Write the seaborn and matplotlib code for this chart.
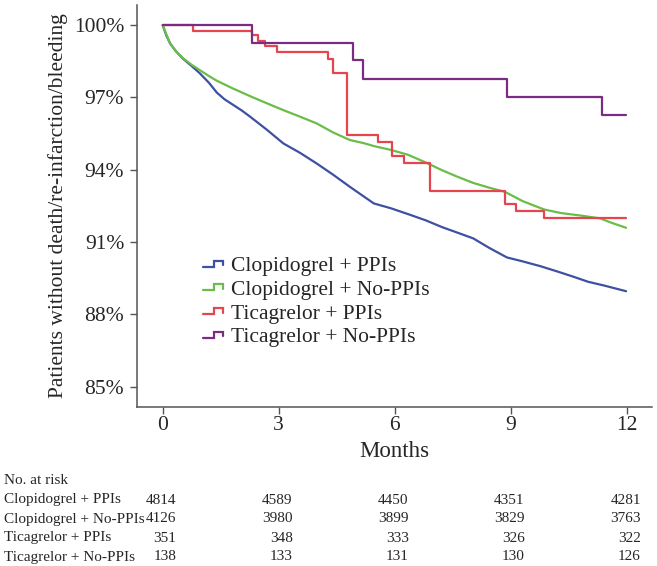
import numpy as np
import pandas as pd
import matplotlib
matplotlib.use("Agg")
import matplotlib.pyplot as plt
import matplotlib.transforms as mtransforms
from matplotlib.legend_handler import HandlerBase
from matplotlib.lines import Line2D
import seaborn as sns

# curve values (month, % event-free)
clop_ppi_t = [0, 0.1, 0.2, 0.35, 0.53, 0.75, 0.96, 1.2, 1.4, 1.6, 1.83, 2.05, 2.26, 2.7, 3.12, 3.55,
              3.98, 4.4, 4.84, 5.1, 5.46, 5.9, 6.34, 6.8, 7.22, 7.6, 8.03, 8.45, 8.9, 9.3, 9.76,
              10.2, 10.62, 11.0, 11.4, 11.98]
clop_ppi_s = [100, 99.55, 99.22, 98.9, 98.6, 98.3, 98.0, 97.6, 97.2, 96.92, 96.68, 96.45, 96.2, 95.65,
              95.09, 94.7, 94.26, 93.8, 93.29, 93.0, 92.6, 92.4, 92.16, 91.9, 91.62, 91.4, 91.15,
              90.75, 90.36, 90.2, 90.0, 89.78, 89.56, 89.35, 89.2, 88.96]

clop_noppi_t = [0, 0.1, 0.19, 0.35, 0.53, 0.75, 0.96, 1.2, 1.4, 1.8, 2.26, 2.7, 3.12, 3.55, 3.98, 4.4,
                4.84, 5.2, 5.46, 5.9, 6.34, 6.8, 7.22, 7.6, 8.03, 8.45, 8.85, 9.3, 9.86, 10.3, 10.8,
                11.31, 11.6, 11.98]
clop_noppi_s = [100, 99.6, 99.24, 98.9, 98.62, 98.35, 98.13, 97.88, 97.69, 97.38, 97.05, 96.75, 96.47,
                96.2, 95.92, 95.55, 95.23, 95.1, 94.98, 94.82, 94.62, 94.3, 93.98, 93.72, 93.45,
                93.25, 93.08, 92.7, 92.35, 92.2, 92.1, 91.98, 91.8, 91.59]

tica_ppi_t = [0, 0.79, 2.30, 2.47, 2.65, 2.95, 4.28, 4.40, 4.77, 5.58, 5.92, 6.24, 6.90, 8.86, 9.14,
              9.86, 11.98]
tica_ppi_s = [100, 99.75, 99.6, 99.33, 99.15, 98.88, 98.58, 98.0, 95.45, 95.14, 94.58, 94.26, 93.13,
              92.57, 92.28, 91.98, 91.98]

tica_noppi_t = [0, 2.30, 4.93, 5.19, 8.91, 11.35, 11.98]
tica_noppi_s = [100, 99.24, 98.54, 97.78, 97.0, 96.25, 96.25]

groups = ["Clopidogrel + PPIs", "Clopidogrel + No-PPIs", "Ticagrelor + PPIs", "Ticagrelor + No-PPIs"]
colors = ["#3E50A2", "#69BD48", "#E4454E", "#7A2B83"]

# numbers at risk
risk_months = [0, 3, 6, 9, 12]
risk_clop_ppi = [4814, 4589, 4450, 4351, 4281]
risk_clop_noppi = [4126, 3980, 3899, 3829, 3763]
risk_tica_ppi = [351, 348, 333, 326, 322]
risk_tica_noppi = [138, 133, 131, 130, 126]

clop = pd.concat([
    pd.DataFrame({"month": clop_ppi_t, "surv": clop_ppi_s, "group": groups[0]}),
    pd.DataFrame({"month": clop_noppi_t, "surv": clop_noppi_s, "group": groups[1]}),
])
tica = pd.concat([
    pd.DataFrame({"month": tica_ppi_t, "surv": tica_ppi_s, "group": groups[2]}),
    pd.DataFrame({"month": tica_noppi_t, "surv": tica_noppi_s, "group": groups[3]}),
])


class StepHandler(HandlerBase):
    # little step-shaped legend key like in the original
    def create_artists(self, legend, orig_handle, xdescent, ydescent, width, height, fontsize, trans):
        xs = np.array([0, 0.5, 0.5, 0.95, 0.95]) * width - xdescent
        ys = np.array([0.3, 0.3, 0.7, 0.7, 0.4]) * height - ydescent
        ln = Line2D(xs, ys, color=orig_handle.get_color(), linewidth=orig_handle.get_linewidth(),
                    solid_joinstyle="miter")
        ln.set_transform(trans)
        return [ln]


sns.set_style("ticks")
plt.rcParams["font.family"] = ["Liberation Serif", "DejaVu Serif"]

W, H = 657, 566
fig = plt.figure(figsize=(W / 100, H / 100), dpi=100)
ax = fig.add_axes([136.7 / W, 1 - 406.7 / H, (652 - 136.7) / W, (406.7 - 5) / H])

sns.lineplot(data=clop, x="month", y="surv", hue="group", hue_order=groups[:2],
             palette=colors[:2], estimator=None, sort=False, linewidth=1.6, legend=False, ax=ax)
sns.lineplot(data=tica, x="month", y="surv", hue="group", hue_order=groups[2:],
             palette=colors[2:], estimator=None, sort=False, linewidth=1.6, legend=False,
             drawstyle="steps-post", ax=ax)

ax.set_xlim(-0.67, 12.65)
ax.set_ylim(84.17, 100.83)
ax.set_xticks(risk_months)
ax.set_yticks([85, 88, 91, 94, 97, 100])
ax.yaxis.set_major_formatter(matplotlib.ticker.StrMethodFormatter("{x:.0f}%"))
ax.tick_params(labelsize=15.5, length=5, width=1, color="#555555", direction="out")
ax.tick_params(axis="x", pad=2)
ax.tick_params(axis="y", pad=4)
sns.despine(ax=ax)
for s in ["left", "bottom"]:
    ax.spines[s].set_color("#555555")
    ax.spines[s].set_linewidth(1.1)
ax.set_xlabel("Months", fontsize=16.5, labelpad=4)
ax.set_ylabel("Patients without death/re-infarction/bleeding", fontsize=15.5, labelpad=4)

ax.legend(ax.lines[:4], groups, loc="upper left", bbox_to_anchor=(203 / W, 1 - 256 / H),
          bbox_transform=fig.transFigure, frameon=False, fontsize=15.5, handlelength=1.0,
          handletextpad=0.3, labelspacing=0.17, borderpad=0, borderaxespad=0,
          handler_map={Line2D: StepHandler()})

# number at risk table
tr = mtransforms.blended_transform_factory(ax.transData, fig.transFigure)
fs = 11
fig.text(4 / W, 1 - 481 / H, "No. at risk", fontsize=fs, va="center", ha="left")
rows = [risk_clop_ppi, risk_clop_noppi, risk_tica_ppi, risk_tica_noppi]
row_y = [500, 519, 538, 557]
for name, vals, yy in zip(groups, rows, row_y):
    fig.text(4 / W, 1 - yy / H, name, fontsize=fs, va="center", ha="left")
    for m, v in zip(risk_months, vals):
        ax.text(m + 0.36, 1 - yy / H, str(v), transform=tr, fontsize=fs, va="center", ha="right")

fig.savefig("out.png", dpi=100)
